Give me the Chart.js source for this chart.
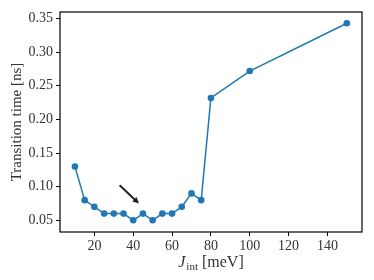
<!DOCTYPE html>
<html>
<head>
<meta charset="utf-8">
<script src="https://cdn.jsdelivr.net/npm/chart.js@4"></script>
<style>
    html, body { margin: 0; padding: 0; background: #fff; }
    #wrap { width: 374px; height: 280px; }
</style>
</head>
<body>
<div id="wrap"><canvas id="chart"></canvas></div>
<script>
// values
const jInt = [10, 15, 20, 25, 30, 35, 40, 45, 50, 55, 60, 65, 70, 75, 80, 100, 150];
const transitionTime = [0.13, 0.08, 0.07, 0.06, 0.06, 0.06, 0.05, 0.06, 0.05, 0.06, 0.06, 0.07, 0.09, 0.08, 0.232, 0.272, 0.343];
const xTicks = [20, 40, 60, 80, 100, 120, 140];
const yTicks = [0.05, 0.10, 0.15, 0.20, 0.25, 0.30, 0.35];
// arrow annotation, tail -> head, in data units
const arrowFrom = [33, 0.102];
const arrowTo = [43, 0.075];

const serif = '"Liberation Serif", "DejaVu Serif", serif';
const blue = '#1f77b4';

// box around the plot, arrow and the x title with its subscript
const extras = {
    id: 'extras',
    afterDraw(chart) {
        const ctx = chart.ctx;
        const a = chart.chartArea;
        const xs = chart.scales.x, ys = chart.scales.y;
        ctx.save();
        ctx.strokeStyle = '#000';
        ctx.lineWidth = 1.2;
        ctx.strokeRect(a.left, a.top, a.right - a.left, a.bottom - a.top);

        // arrow
        const x1 = xs.getPixelForValue(arrowFrom[0]), y1 = ys.getPixelForValue(arrowFrom[1]);
        const x2 = xs.getPixelForValue(arrowTo[0]), y2 = ys.getPixelForValue(arrowTo[1]);
        const ang = Math.atan2(y2 - y1, x2 - x1);
        const head = 7;
        ctx.strokeStyle = '#222';
        ctx.fillStyle = '#222';
        ctx.lineWidth = 2;
        ctx.beginPath();
        ctx.moveTo(x1, y1);
        ctx.lineTo(x2 - head * 0.8 * Math.cos(ang), y2 - head * 0.8 * Math.sin(ang));
        ctx.stroke();
        ctx.beginPath();
        ctx.moveTo(x2, y2);
        ctx.lineTo(x2 - head * Math.cos(ang - 0.45), y2 - head * Math.sin(ang - 0.45));
        ctx.lineTo(x2 - head * Math.cos(ang + 0.45), y2 - head * Math.sin(ang + 0.45));
        ctx.closePath();
        ctx.fill();

        // x title: J_int [meV]
        const cy = 267;
        ctx.fillStyle = '#333';
        ctx.textBaseline = 'alphabetic';
        ctx.textAlign = 'left';
        ctx.font = 'italic 16px ' + serif;
        const wJ = ctx.measureText('J').width;
        ctx.font = '11px ' + serif;
        const wSub = ctx.measureText('int').width;
        ctx.font = '16px ' + serif;
        const wRest = ctx.measureText(' [meV]').width;
        let x = (a.left + a.right) / 2 - (wJ + wSub + 1 + wRest) / 2;
        ctx.font = 'italic 16px ' + serif;
        ctx.fillText('J', x, cy);
        x += wJ + 1;
        ctx.font = '11px ' + serif;
        ctx.fillText('int', x, cy + 3);
        x += wSub;
        ctx.font = '16px ' + serif;
        ctx.fillText(' [meV]', x, cy);
        ctx.restore();
    }
};

new Chart(document.querySelector('#chart'), {
    type: 'line',
    data: {
        labels: jInt,
        datasets: [{
            data: jInt.map((x, i) => ({ x: x, y: transitionTime[i] })),
            borderColor: blue,
            backgroundColor: blue,
            borderWidth: 1.5,
            pointRadius: 3.3,
            pointBorderWidth: 0,
            tension: 0,
            fill: false
        }]
    },
    options: {
        responsive: true,
        maintainAspectRatio: false,
        animation: false,
        layout: { padding: { top: 12, right: 12, left: 0, bottom: 0 } },
        plugins: { legend: { display: false }, tooltip: { enabled: false } },
        scales: {
            x: {
                type: 'linear',
                min: 2.3,
                max: 157.8,
                afterFit: s => { s.height = 48; },
                afterBuildTicks: s => { s.ticks = xTicks.map(v => ({ value: v })); },
                grid: { drawOnChartArea: false, drawTicks: true, tickLength: 4, color: '#000' },
                border: { display: false },
                ticks: { color: '#333', font: { family: serif, size: 14 }, padding: 2, maxRotation: 0 }
            },
            y: {
                min: 0.0326,
                max: 0.3598,
                afterFit: s => { s.width = 60; },
                afterBuildTicks: s => { s.ticks = yTicks.map(v => ({ value: v })); },
                grid: { drawOnChartArea: false, drawTicks: true, tickLength: 4, color: '#000' },
                border: { display: false },
                ticks: {
                    color: '#333',
                    font: { family: serif, size: 14 },
                    padding: 3,
                    callback: v => v.toFixed(2)
                },
                title: {
                    display: true,
                    text: 'Transition time [ns]',
                    color: '#333',
                    font: { family: serif, size: 15 },
                    padding: { top: 8, bottom: 0 }
                }
            }
        }
    },
    plugins: [extras]
});
</script>
</body>
</html>
